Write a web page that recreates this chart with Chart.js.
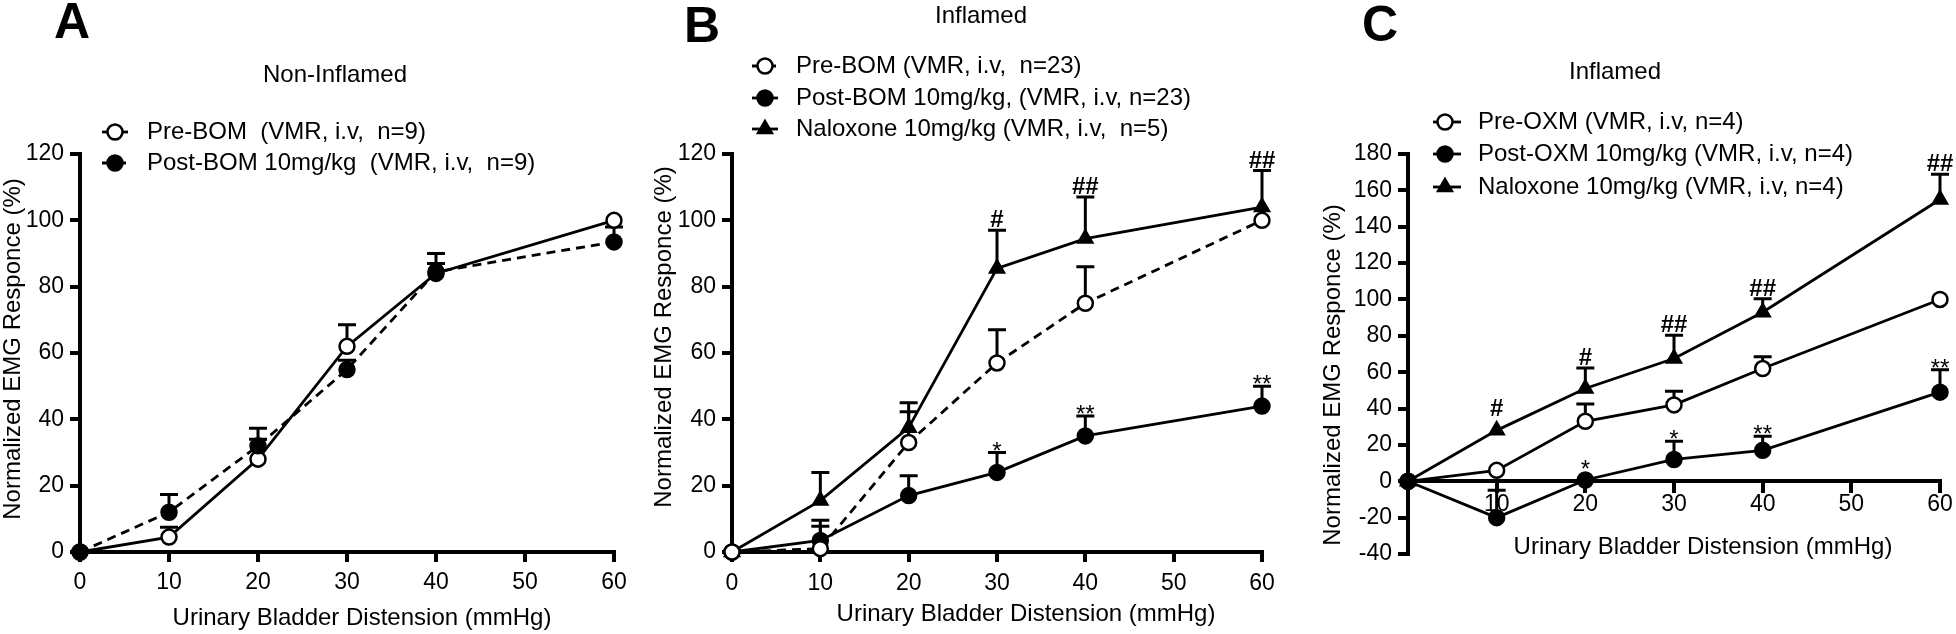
<!DOCTYPE html>
<html>
<head>
<meta charset="utf-8">
<script src="https://cdn.jsdelivr.net/npm/chart.js@4.4.1/dist/chart.umd.min.js"></script>
<style>
  body { margin: 0; background: #fff; width: 1956px; height: 634px; overflow: hidden; position: relative; }
  .panel { position: absolute; top: 0; height: 634px; }
</style>
</head>
<body>
<div class="panel" style="left:0;width:645px"><canvas id="chartA"></canvas></div>
<div class="panel" style="left:645px;width:660px"><canvas id="chartB"></canvas></div>
<div class="panel" style="left:1305px;width:651px"><canvas id="chartC"></canvas></div>
<script>
Chart.defaults.font.family = "'Liberation Sans', Arial, sans-serif";
Chart.defaults.color = '#000';

// distension pressures (mmHg)
const pressure = [0, 10, 20, 30, 40, 60];
const xTicks = [0, 10, 20, 30, 40, 50, 60];
const xTicksC = [10, 20, 30, 40, 50, 60];
const yTicksAB = [0, 20, 40, 60, 80, 100, 120];
const yTicksC = [-40, -20, 0, 20, 40, 60, 80, 100, 120, 140, 160, 180];

// A - non-inflamed
const aPre = [0, 4.5, 28, 62, 84, 100];
const aPreErr = [0, 3, 6, 6.5, 6, 0];
const aPost = [0, 12, 32, 55, 84.5, 93.5];
const aPostErr = [0, 5.3, 5.3, 2.8, 2.5, 4.5];

// B - inflamed, BOM
const bPre = [0, 1, 33, 57, 75, 100];
const bPreErr = [0, 8.6, 9.3, 10, 11, 0];
const bPost = [0, 3.5, 17, 24, 35, 44];
const bPostErr = [0, 4.3, 6, 6, 6, 6];
const bPostMarks = ['', '', '', '*', '**', '**'];
const bNal = [0, 15.5, 37.5, 85.5, 94.5, 104];
const bNalErr = [0, 8.5, 7.5, 11.5, 12.5, 11];
const bNalMarks = ['', '', '', '#', '##', '##'];

// C - inflamed, OXM
const cPre = [0, 6, 33, 42, 62, 100];
const cPreErr = [0, 0, 9.5, 7.5, 6.5, 0];
const cPost = [0, -20, 0.7, 12, 17, 49];
const cPostErr = [0, 15, 0, 10, 7.8, 12.3];
const cPostMarks = ['', '', '*', '*', '**', '**'];
const cNal = [0, 28, 51, 67.5, 93, 155];
const cNalErr = [0, 0, 11.3, 12.8, 7.4, 13.9];
const cNalMarks = ['', '#', '#', '##', '##', '##'];

const FONT = "'Liberation Sans', Arial, sans-serif";

function series(label, values, errs, marks, kind, dashed, order) {
  return {
    label: label,
    data: pressure.map((x, i) => ({ x: x, y: values[i] })),
    errors: errs,
    marks: marks || [],
    kind: kind,
    borderColor: '#000',
    borderWidth: 2.8,
    borderDash: dashed ? [9, 6] : [],
    pointStyle: kind === 'tri' ? 'triangle' : 'circle',
    pointRadius: kind === 'tri' ? 9 : 7.5,
    pointBorderWidth: kind === 'tri' ? 1.5 : 2.5,
    pointBackgroundColor: kind === 'open' ? '#fff' : '#000',
    pointBorderColor: '#000',
    tension: 0,
    clip: false,
    order: order
  };
}

function drawMarker(ctx, kind, x, y) {
  ctx.beginPath();
  if (kind === 'tri') {
    const r = 9;
    for (let k = 0; k < 3; k++) {
      const a = k * 2 * Math.PI / 3;
      ctx.lineTo(x + Math.sin(a) * r, y - Math.cos(a) * r);
    }
    ctx.closePath();
  } else {
    ctx.arc(x, y, 7.5, 0, 2 * Math.PI);
  }
  ctx.fillStyle = kind === 'open' ? '#fff' : '#000';
  ctx.fill();
  ctx.lineWidth = kind === 'tri' ? 1.5 : 2.5;
  ctx.strokeStyle = '#000';
  ctx.stroke();
}

const panelDeco = {
  id: 'panelDeco',
  beforeDatasetsDraw(chart) {
    // error bars (upper SEM) under the markers
    const ctx = chart.ctx, xs = chart.scales.x, ys = chart.scales.y;
    ctx.save();
    ctx.strokeStyle = '#000';
    ctx.lineWidth = 3;
    ctx.setLineDash([]);
    chart.data.datasets.forEach(ds => {
      ds.data.forEach((p, i) => {
        const e = ds.errors[i];
        if (!e) return;
        const x = xs.getPixelForValue(p.x);
        const y0 = ys.getPixelForValue(p.y);
        const y1 = ys.getPixelForValue(p.y + e);
        ctx.beginPath();
        ctx.moveTo(x, y0); ctx.lineTo(x, y1);
        ctx.moveTo(x - 9, y1); ctx.lineTo(x + 9, y1);
        ctx.stroke();
      });
    });
    ctx.restore();
  },
  afterDatasetsDraw(chart) {
    // significance marks above the bars
    const ctx = chart.ctx, xs = chart.scales.x, ys = chart.scales.y;
    ctx.save();
    ctx.fillStyle = '#000';
    ctx.textAlign = 'center';
    ctx.textBaseline = 'alphabetic';
    chart.data.datasets.forEach(ds => {
      ds.marks.forEach((m, i) => {
        if (!m) return;
        const p = ds.data[i];
        const x = xs.getPixelForValue(p.x);
        const e = ds.errors[i];
        let capY = e ? ys.getPixelForValue(p.y + e) : ys.getPixelForValue(p.y) - ds.pointRadius - 2;
        if (m[0] === '#') {
          ctx.font = 'bold 24px ' + FONT;
          ctx.fillText(m, x, capY - 3);
        } else {
          ctx.font = '24px ' + FONT;
          ctx.fillText(m, x, capY + 6);
        }
      });
    });
    ctx.restore();
  },
  afterDraw(chart, args, o) {
    const ctx = chart.ctx;
    ctx.save();
    ctx.fillStyle = '#000';
    ctx.textAlign = 'center';
    ctx.textBaseline = 'middle';
    ctx.font = 'bold 50px ' + FONT;
    ctx.fillText(o.letter, o.letterPos[0], o.letterPos[1]);
    ctx.font = '24px ' + FONT;
    ctx.fillText(o.title, o.titlePos[0], o.titlePos[1]);
    ctx.fillText(o.xTitle, o.xTitlePos[0], o.xTitlePos[1]);
    ctx.save();
    ctx.translate(o.yTitlePos[0], o.yTitlePos[1]);
    ctx.rotate(-Math.PI / 2);
    ctx.fillText(o.yTitle, 0, 0);
    ctx.restore();

    // legend: line segment with marker, then label
    const lg = o.legend;
    chart.data.datasets.forEach((ds, i) => {
      const y = lg.rows[i];
      ctx.beginPath();
      ctx.setLineDash(ds.borderDash);
      ctx.lineWidth = 2.8;
      ctx.strokeStyle = '#000';
      ctx.moveTo(lg.x1, y); ctx.lineTo(lg.x2, y);
      ctx.stroke();
      ctx.setLineDash([]);
      drawMarker(ctx, ds.kind, lg.mx, y);
      ctx.fillStyle = '#000';
      ctx.textAlign = 'left';
      ctx.font = '24px ' + FONT;
      ctx.fillText(ds.label, lg.tx, y);
    });
    ctx.restore();
  }
};

function makeChart(id, datasets, cfg) {
  return new Chart(document.getElementById(id), {
    type: 'line',
    data: { datasets: datasets },
    options: {
      responsive: true,
      maintainAspectRatio: false,
      animation: false,
      events: [],
      layout: { padding: cfg.padding },
      plugins: { legend: { display: false }, tooltip: { enabled: false }, panelDeco: cfg.deco },
      scales: {
        x: {
          type: 'linear',
          min: 0, max: 60,
          position: cfg.xPos,
          afterBuildTicks: s => { s.ticks = cfg.xTicks.map(v => ({ value: v })); },
          afterFit: s => { s.height = cfg.xHeight; },
          ticks: { font: { size: 23 }, padding: cfg.xPad, maxRotation: 0, autoSkip: false },
          grid: { drawOnChartArea: false, drawTicks: true, tickLength: 10, lineWidth: 4, color: '#000' },
          border: { display: true, width: 4, color: '#000' }
        },
        y: {
          type: 'linear',
          min: cfg.yTicks[0], max: cfg.yTicks[cfg.yTicks.length - 1],
          afterBuildTicks: s => { s.ticks = cfg.yTicks.map(v => ({ value: v })); },
          afterFit: s => { s.width = cfg.yWidth; },
          ticks: { font: { size: 23 }, padding: 6, autoSkip: false },
          grid: { drawOnChartArea: false, drawTicks: true, tickLength: 10, lineWidth: 4, color: '#000' },
          border: { display: true, width: 4, color: '#000' }
        }
      }
    },
    plugins: [panelDeco]
  });
}

const yTitle = 'Normalized EMG Responce (%)';
const xTitle = 'Urinary Bladder Distension (mmHg)';

makeChart('chartA', [
  series('Pre-BOM  (VMR, i.v,  n=9)', aPre, aPreErr, null, 'open', false, 1),
  series('Post-BOM 10mg/kg  (VMR, i.v,  n=9)', aPost, aPostErr, null, 'filled', true, 0)
], {
  padding: { top: 154, right: 31, bottom: 0, left: 0 },
  yWidth: 80, xHeight: 82, xPad: 7, xPos: 'bottom',
  xTicks: xTicks, yTicks: yTicksAB,
  deco: {
    letter: 'A', letterPos: [72, 24],
    title: 'Non-Inflamed', titlePos: [335, 75],
    xTitle: xTitle, xTitlePos: [362, 618],
    yTitle: yTitle, yTitlePos: [13, 349],
    legend: { rows: [132, 163], x1: 102, x2: 128, mx: 115, tx: 147 }
  }
});

makeChart('chartB', [
  series('Pre-BOM (VMR, i.v,  n=23)', bPre, bPreErr, null, 'open', true, 0),
  series('Post-BOM 10mg/kg, (VMR, i.v, n=23)', bPost, bPostErr, bPostMarks, 'filled', false, 1),
  series('Naloxone 10mg/kg (VMR, i.v,  n=5)', bNal, bNalErr, bNalMarks, 'tri', false, 2)
], {
  padding: { top: 154, right: 43, bottom: 0, left: 0 },
  yWidth: 87, xHeight: 82, xPad: 8, xPos: 'bottom',
  xTicks: xTicks, yTicks: yTicksAB,
  deco: {
    letter: 'B', letterPos: [57, 28],
    title: 'Inflamed', titlePos: [336, 16],
    xTitle: xTitle, xTitlePos: [381, 614],
    yTitle: yTitle, yTitlePos: [19, 337],
    legend: { rows: [66, 98, 129], x1: 107, x2: 133, mx: 120, tx: 151 }
  }
});

makeChart('chartC', [
  series('Pre-OXM (VMR, i.v, n=4)', cPre, cPreErr, null, 'open', false, 1),
  series('Post-OXM 10mg/kg (VMR, i.v, n=4)', cPost, cPostErr, cPostMarks, 'filled', false, 0),
  series('Naloxone 10mg/kg (VMR, i.v, n=4)', cNal, cNalErr, cNalMarks, 'tri', false, 2)
], {
  padding: { top: 154, right: 16, bottom: 80, left: 0 },
  yWidth: 103, xHeight: 0, xPad: 0, xPos: { y: 0 },
  xTicks: xTicksC, yTicks: yTicksC,
  deco: {
    letter: 'C', letterPos: [75, 27],
    title: 'Inflamed', titlePos: [310, 72],
    xTitle: xTitle, xTitlePos: [398, 547],
    yTitle: yTitle, yTitlePos: [28, 375],
    legend: { rows: [122, 154, 187], x1: 128, x2: 156, mx: 140, tx: 173 }
  }
});
</script>
</body>
</html>
